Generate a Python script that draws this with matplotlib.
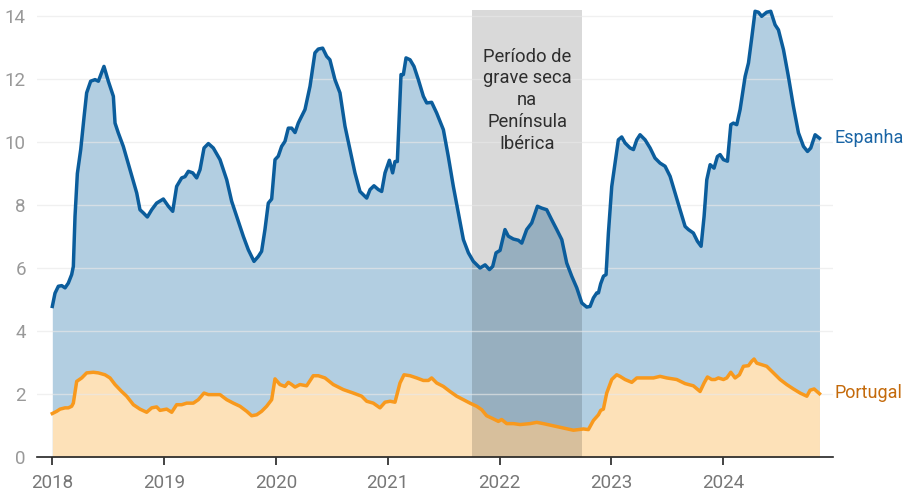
import matplotlib
matplotlib.use("Agg")
import matplotlib.pyplot as plt

plt.rcParams['font.family'] = ['Roboto', 'DejaVu Sans']

# ---- Data (decimal years, values) ----
es_years = [2018.000, 2018.024, 2018.054, 2018.084, 2018.114, 2018.143, 2018.173, 2018.188, 2018.203, 2018.224,
            2018.254, 2018.284, 2018.307, 2018.343, 2018.382, 2018.412, 2018.462, 2018.501, 2018.546, 2018.561,
            2018.590, 2018.635, 2018.695, 2018.755, 2018.784, 2018.814, 2018.850, 2018.889, 2018.933, 2018.993,
            2019.038, 2019.077, 2019.112, 2019.157, 2019.187, 2019.217, 2019.256, 2019.291, 2019.321, 2019.357,
            2019.396, 2019.440, 2019.500, 2019.560, 2019.604, 2019.649, 2019.709, 2019.753, 2019.804, 2019.843,
            2019.872, 2019.902, 2019.932, 2019.962, 2019.992, 2020.021, 2020.051, 2020.081, 2020.111, 2020.141,
            2020.171, 2020.200, 2020.215, 2020.260, 2020.305, 2020.349, 2020.379, 2020.418, 2020.454, 2020.483,
            2020.528, 2020.573, 2020.618, 2020.662, 2020.707, 2020.752, 2020.812, 2020.842, 2020.877, 2020.916,
            2020.946, 2020.976, 2021.015, 2021.044, 2021.065, 2021.086, 2021.119, 2021.140, 2021.164, 2021.200,
            2021.235, 2021.274, 2021.319, 2021.349, 2021.393, 2021.438, 2021.498, 2021.542, 2021.587, 2021.632,
            2021.677, 2021.722, 2021.766, 2021.826, 2021.871, 2021.910, 2021.939, 2021.969, 2022.005, 2022.049,
            2022.079, 2022.124, 2022.169, 2022.199, 2022.243, 2022.288, 2022.339, 2022.378, 2022.422, 2022.467,
            2022.512, 2022.557, 2022.601, 2022.646, 2022.691, 2022.736, 2022.780, 2022.810, 2022.840, 2022.870,
            2022.885, 2022.905, 2022.930, 2022.953, 2022.974, 2023.004, 2023.034, 2023.063, 2023.093, 2023.123,
            2023.168, 2023.198, 2023.228, 2023.257, 2023.302, 2023.347, 2023.391, 2023.436, 2023.481, 2023.526,
            2023.570, 2023.615, 2023.660, 2023.690, 2023.734, 2023.770, 2023.803, 2023.830, 2023.854, 2023.884,
            2023.919, 2023.949, 2023.973, 2024.003, 2024.039, 2024.069, 2024.092, 2024.122, 2024.152, 2024.197,
            2024.227, 2024.256, 2024.286, 2024.316, 2024.345, 2024.390, 2024.426, 2024.465, 2024.495, 2024.540,
            2024.584, 2024.629, 2024.674, 2024.719, 2024.755, 2024.784, 2024.823, 2024.862]
es_values = [4.78, 5.20, 5.42, 5.44, 5.37, 5.52, 5.79, 6.05, 7.64, 9.00,
             9.76, 10.80, 11.56, 11.93, 11.98, 11.93, 12.40, 11.93, 11.45, 10.60,
             10.29, 9.86, 9.12, 8.38, 7.85, 7.75, 7.62, 7.85, 8.06, 8.19,
             7.96, 7.80, 8.59, 8.86, 8.90, 9.07, 9.02, 8.86, 9.12, 9.81,
             9.95, 9.81, 9.44, 8.80, 8.12, 7.64, 7.00, 6.58, 6.21, 6.37,
             6.53, 7.22, 8.06, 8.19, 9.44, 9.55, 9.86, 10.02, 10.44, 10.44,
             10.30, 10.60, 10.71, 11.03, 11.77, 12.83, 12.95, 12.98, 12.72, 12.61,
             11.98, 11.56, 10.50, 9.76, 9.02, 8.43, 8.22, 8.49, 8.61, 8.49,
             8.43, 9.02, 9.42, 9.02, 9.38, 9.38, 12.14, 12.14, 12.67, 12.61,
             12.40, 11.98, 11.45, 11.24, 11.26, 10.92, 10.39, 9.54, 8.59, 7.75,
             6.90, 6.48, 6.21, 6.00, 6.10, 5.95, 6.05, 6.48, 6.56, 7.22,
             7.01, 6.92, 6.88, 6.79, 7.22, 7.43, 7.96, 7.90, 7.85, 7.53,
             7.22, 6.90, 6.16, 5.74, 5.37, 4.89, 4.76, 4.78, 5.05, 5.21,
             5.21, 5.50, 5.74, 5.79, 7.11, 8.59, 9.33, 10.07, 10.16, 9.97,
             9.81, 9.76, 10.07, 10.23, 10.07, 9.81, 9.49, 9.33, 9.23, 8.91,
             8.38, 7.85, 7.32, 7.22, 7.11, 6.85, 6.69, 7.64, 8.80, 9.28,
             9.17, 9.54, 9.60, 9.44, 9.39, 10.55, 10.60, 10.55, 11.03, 12.08,
             12.51, 13.30, 14.15, 14.12, 13.99, 14.12, 14.15, 13.72, 13.56, 12.93,
             12.08, 11.13, 10.29, 9.86, 9.70, 9.81, 10.23, 10.12]

pt_years = [2018.000, 2018.039, 2018.069, 2018.114, 2018.143, 2018.173, 2018.188, 2018.218, 2018.263, 2018.307,
            2018.367, 2018.412, 2018.471, 2018.516, 2018.561, 2018.620, 2018.665, 2018.725, 2018.784, 2018.844,
            2018.889, 2018.933, 2018.963, 2019.023, 2019.068, 2019.112, 2019.157, 2019.202, 2019.261, 2019.306,
            2019.357, 2019.396, 2019.440, 2019.500, 2019.560, 2019.619, 2019.679, 2019.739, 2019.783, 2019.828,
            2019.872, 2019.917, 2019.962, 2019.992, 2020.036, 2020.081, 2020.111, 2020.141, 2020.171, 2020.215,
            2020.275, 2020.334, 2020.379, 2020.439, 2020.513, 2020.603, 2020.692, 2020.767, 2020.812, 2020.871,
            2020.931, 2020.976, 2021.021, 2021.065, 2021.110, 2021.146, 2021.200, 2021.259, 2021.319, 2021.364,
            2021.393, 2021.438, 2021.498, 2021.557, 2021.617, 2021.677, 2021.736, 2021.796, 2021.841, 2021.885,
            2021.945, 2021.990, 2022.019, 2022.064, 2022.124, 2022.184, 2022.273, 2022.333, 2022.392, 2022.482,
            2022.571, 2022.661, 2022.706, 2022.751, 2022.795, 2022.840, 2022.885, 2022.905, 2022.929, 2022.959,
            2023.004, 2023.048, 2023.078, 2023.123, 2023.183, 2023.228, 2023.287, 2023.377, 2023.436, 2023.496,
            2023.585, 2023.660, 2023.734, 2023.794, 2023.830, 2023.860, 2023.898, 2023.928, 2023.958, 2024.003,
            2024.033, 2024.069, 2024.107, 2024.146, 2024.182, 2024.227, 2024.256, 2024.277, 2024.301, 2024.345,
            2024.390, 2024.450, 2024.510, 2024.569, 2024.629, 2024.689, 2024.749, 2024.778, 2024.814, 2024.862]
pt_values = [1.38, 1.45, 1.52, 1.56, 1.56, 1.61, 1.71, 2.40, 2.51, 2.67,
             2.69, 2.67, 2.61, 2.51, 2.30, 2.08, 1.93, 1.66, 1.52, 1.42,
             1.56, 1.59, 1.48, 1.52, 1.42, 1.66, 1.66, 1.71, 1.71, 1.82,
             2.03, 1.98, 1.98, 1.98, 1.82, 1.71, 1.61, 1.45, 1.31, 1.34,
             1.45, 1.61, 1.82, 2.48, 2.30, 2.24, 2.37, 2.30, 2.22, 2.30,
             2.26, 2.58, 2.58, 2.51, 2.30, 2.14, 2.03, 1.93, 1.77, 1.71,
             1.56, 1.74, 1.77, 1.74, 2.35, 2.61, 2.58, 2.51, 2.43, 2.43,
             2.51, 2.35, 2.24, 2.08, 1.93, 1.82, 1.71, 1.61, 1.50, 1.31,
             1.21, 1.13, 1.19, 1.06, 1.06, 1.03, 1.06, 1.10, 1.06, 0.99,
             0.92, 0.85, 0.87, 0.89, 0.87, 1.16, 1.34, 1.48, 1.52, 2.03,
             2.46, 2.61, 2.56, 2.46, 2.37, 2.51, 2.51, 2.51, 2.56, 2.51,
             2.46, 2.33, 2.26, 2.08, 2.35, 2.54, 2.46, 2.46, 2.51, 2.46,
             2.51, 2.69, 2.51, 2.61, 2.88, 2.90, 3.04, 3.11, 2.98, 2.93,
             2.88, 2.67, 2.46, 2.30, 2.16, 2.03, 1.93, 2.12, 2.16, 2.01]

drought_start, drought_end = 2021.757, 2022.74
drought_label = "Período de\ngrave seca\nna\nPenínsula\nIbérica"
year_ticks = [2018, 2019, 2020, 2021, 2022, 2023, 2024]
y_ticks = [0, 2, 4, 6, 8, 10, 12, 14]

# ---- Colours ----
es_line, es_fill, es_text = "#0b5d9c", "#b2cee1", "#1a65a5"
pt_line, pt_fill, pt_text = "#f8991d", "#fde1b8", "#c46a0b"

fig = plt.figure(figsize=(9.06, 4.94), dpi=100)
ax = fig.add_axes([37/906, 37/494, (833-37)/906, 14.3*31.5/494])

ax.fill_between(es_years, 0, es_values, color=es_fill, lw=0, zorder=1)
ax.fill_between(pt_years, 0, pt_values, color=pt_fill, lw=0, zorder=2)
ax.fill_between([drought_start, drought_end], 0, 14.19, color="black", alpha=0.15, lw=0, zorder=3)
for yt in y_ticks[1:]:
    ax.axhline(yt, color="#e8e8e8", lw=1.0, alpha=0.65, zorder=4)
ax.plot(es_years, es_values, color=es_line, lw=2.5, zorder=6, solid_joinstyle="round")
ax.plot(pt_years, pt_values, color=pt_line, lw=2.5, zorder=5, solid_joinstyle="round")

ax.text((drought_start + drought_end) / 2, 13.0, drought_label, ha="center", va="top",
        fontsize=13.2, color="#2e2e2e", linespacing=1.27, zorder=7)

ax.annotate("Espanha", xy=(es_years[-1], 10.13), xytext=(11, 0), textcoords="offset points",
            va="center", ha="left", fontsize=13, color=es_text, annotation_clip=False)
ax.annotate("Portugal", xy=(pt_years[-1], 2.03), xytext=(11, 0), textcoords="offset points",
            va="center", ha="left", fontsize=13, color=pt_text, annotation_clip=False)

ax.set_xlim(2017.863, 2024.983)
ax.set_ylim(0, 14.3)
ax.set_xticks(year_ticks)
ax.set_xticklabels([str(y) for y in year_ticks])
ax.set_yticks(y_ticks)
ax.set_yticklabels([str(v) for v in y_ticks])
for s in ["top", "right", "left"]:
    ax.spines[s].set_visible(False)
ax.spines["bottom"].set_color("#222222")
ax.spines["bottom"].set_linewidth(1.2)
ax.spines["bottom"].set_zorder(8)
ax.tick_params(axis="x", length=6, width=1.2, color="#222222", labelcolor="#777777",
               labelsize=13.5, pad=6)
ax.tick_params(axis="y", length=0, labelcolor="#999999", labelsize=13.5, pad=8)

fig.savefig("out.png", dpi=100)
